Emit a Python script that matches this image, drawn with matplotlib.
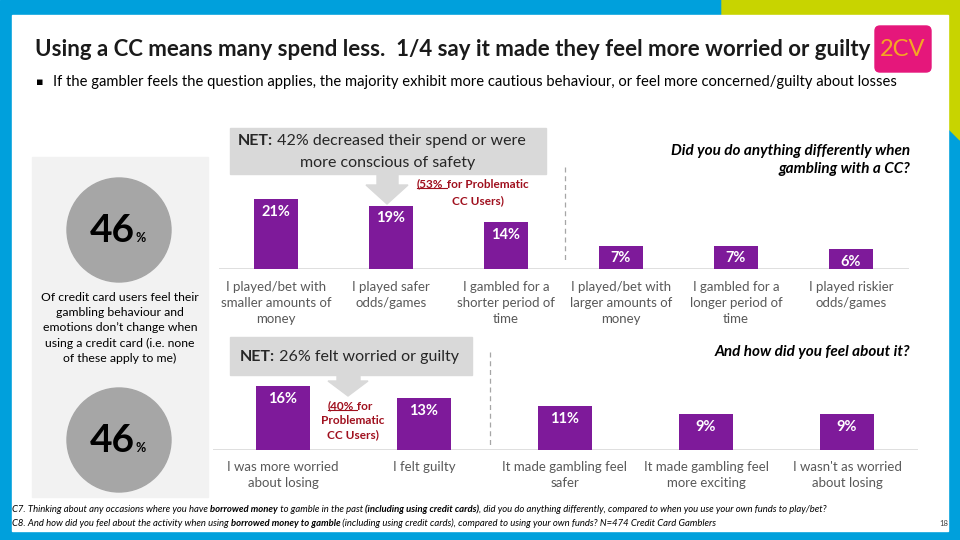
import matplotlib
matplotlib.use("Agg")
import matplotlib.pyplot as plt
from matplotlib.patches import Rectangle, Circle, Polygon, FancyBboxPatch

plt.rcParams['font.family'] = ['Lato', 'DejaVu Sans']

# data
do_labels = ["I played/bet with\nsmaller amounts of\nmoney", "I played safer\nodds/games",
             "I gambled for a\nshorter period of\ntime", "I played/bet with\nlarger amounts of\nmoney",
             "I gambled for a\nlonger period of\ntime", "I played riskier\nodds/games"]
do_values = [21, 19, 14, 7, 7, 6]
feel_labels = ["I was more worried\nabout losing", "I felt guilty", "It made gambling feel\nsafer",
               "It made gambling feel\nmore exciting", "I wasn't as worried\nabout losing"]
feel_values = [16, 13, 11, 9, 9]
no_change = [46, 46]
net_do = 42
net_feel = 26
prob_do = 53
prob_feel = 40

PURPLE = '#7E1A9A'
BLUE = '#00A0DC'
LIME = '#C8D400'
DARKRED = '#A0101E'
GREY_TXT = '#595959'
W, H = 960, 540

fig = plt.figure(figsize=(9.6, 5.4), dpi=100)
bg = fig.add_axes([0, 0, 1, 1])
bg.set_xlim(0, W)
bg.set_ylim(H, 0)
bg.axis('off')


def rich(ax, x, y, parts, **kw):
    # chain text pieces with different weights on one line
    t = ax.text(x, y, parts[0][0], fontweight=parts[0][1], **kw)
    first = t
    for s, w in parts[1:]:
        t = ax.annotate(s, xy=(1, 0), xycoords=t, va='bottom', ha='left', fontweight=w,
                        fontsize=kw.get('fontsize'), color=kw.get('color'),
                        fontstyle=kw.get('fontstyle', 'normal'))
    return first


# frame
bg.add_patch(Rectangle((0, 0), W, H, color=BLUE, zorder=0))
bg.add_patch(Polygon([(722, 0), (W, 0), (W, 140), (948, 128), (948, 15), (722, 15)], color=LIME, zorder=0))
bg.add_patch(Rectangle((12, 15), 936, 516, color='white', zorder=0))

# title & subtitle
bg.text(35, 50, "Using a CC means many spend less.  1/4 say it made they feel more worried or guilty",
        fontsize=16, fontweight='bold', va='center', ha='left', color='#1a1a1a')
bg.add_patch(FancyBboxPatch((877, 28), 52, 42, boxstyle='round,pad=2,rounding_size=5',
                            color='#E5177B', zorder=2))
bg.text(903, 50, "2CV", fontsize=17, color='#F5A623', ha='center', va='center', zorder=3)
bg.text(36, 82, "\u25aa", fontsize=8, va='center', color='black', family=['DejaVu Sans'])
bg.text(53, 82, "If the gambler feels the question applies, the majority exhibit more cautious behaviour, "
        "or feel more concerned/guilty about losses", fontsize=10.6, va='center', color='black')

# left panel
bg.add_patch(Rectangle((32, 157), 176, 340, color='#F2F2F2', zorder=1))
for cy, v in zip([230, 440], no_change):
    bg.add_patch(Circle((119, cy), 52, color='#A6A6A6', zorder=2))
    bg.text(135, cy + 12, str(v), fontsize=28, fontweight='bold', ha='right', va='baseline', zorder=3)
    bg.text(136, cy + 12, "%", fontsize=9, fontweight='bold', ha='left', va='baseline', zorder=3)
bg.text(120, 328, "Of credit card users feel their\ngambling behaviour and\nemotions don\u2019t change when\n"
        "using a credit card (i.e. none\nof these apply to me)", fontsize=8.8, ha='center', va='center',
        linespacing=1.45, color='black', zorder=3)

# NET boxes and arrows
bg.add_patch(Rectangle((230, 128), 316, 46, color='#D9D9D9', zorder=1))
bg.add_patch(Polygon([(377, 174), (398, 174), (398, 185), (408, 185), (387, 204), (366, 185), (377, 185)],
                     color='#D9D9D9', zorder=1))
rich(bg, 238, 141, [("NET:", 'bold'), (" %d%% decreased their spend or were" % net_do, 'normal')],
     fontsize=11.5, va='center', color='#262626')
bg.text(388, 163, "more conscious of safety", fontsize=11.5, ha='center', va='center', color='#262626')

bg.add_patch(Rectangle((230, 337), 242, 38, color='#D9D9D9', zorder=1))
bg.add_patch(Polygon([(337, 375), (360, 375), (360, 381), (368, 381), (348, 396), (328, 381), (337, 381)],
                     color='#D9D9D9', zorder=1))
rich(bg, 240, 357, [("NET:", 'bold'), (" %d%% felt worried or guilty" % net_feel, 'normal')],
     fontsize=11.5, va='center', color='#262626')

# problematic users notes
u1 = rich(bg, 417, 184, [("(%d%%" % prob_do, 'bold'), (" for Problematic", 'bold')],
          fontsize=8.5, va='center', color=DARKRED)
bg.text(478, 201, "CC Users)", fontsize=8.5, fontweight='bold', ha='center', va='center', color=DARKRED)
u2 = rich(bg, 328, 406, [("(%d%%" % prob_feel, 'bold'), (" for", 'bold')],
          fontsize=8.5, va='center', color=DARKRED)
bg.text(353, 415, "Problematic\nCC Users)", fontsize=8.5, fontweight='bold', ha='center', va='top',
        linespacing=1.4, color=DARKRED)

# questions
bg.text(910, 160, "Did you do anything differently when\ngambling with a CC?", fontsize=11, fontweight='bold',
        fontstyle='italic', ha='right', va='center', multialignment='right', linespacing=1.45)
bg.text(910, 352, "And how did you feel about it?", fontsize=11, fontweight='bold',
        fontstyle='italic', ha='right', va='center')

# dashed separators
bg.plot([565, 565], [167, 263], color='#A6A6A6', lw=0.9, ls=(0, (4, 3)))
bg.plot([490, 490], [352, 446], color='#A6A6A6', lw=0.9, ls=(0, (4, 3)))

# footer
rich(bg, 12, 510, [("C7. Thinking about any occasions where you have ", 'normal'), ("borrowed money", 'bold'),
                   (" to gamble in the past ", 'normal'), ("(including using credit cards)", 'bold'),
                   (", did you do anything differently, compared to when you use your own funds to play/bet?", 'normal')],
     fontsize=6.8, fontstyle='italic', va='center', color='black')
rich(bg, 12, 524, [("C8. And how did you feel about the activity when using ", 'normal'),
                   ("borrowed money to gamble", 'bold'),
                   (" (including using credit cards), compared to using your own funds? N=474 Credit Card Gamblers", 'normal')],
     fontsize=6.8, fontstyle='italic', va='center', color='black')
bg.text(944, 524, "18", fontsize=5.5, ha='center', va='center', color='#404040')


def px_axes(left, right, base, height):
    return fig.add_axes([left / W, (H - base) / H, (right - left) / W, height / H])


def bar_chart(ax, labels, values, ymax, pad):
    x = range(len(values))
    ax.bar(x, values, width=0.385, color=PURPLE, zorder=2)
    ax.set_xlim(-0.5, len(values) - 0.5)
    ax.set_ylim(0, ymax)
    ax.axhline(0, color='#D9D9D9', lw=1.2, zorder=1)
    for s in ax.spines.values():
        s.set_visible(False)
    ax.set_yticks([])
    ax.set_xticks(list(x), labels)
    ax.tick_params(axis='x', length=0, pad=pad, labelsize=9.5, labelcolor=GREY_TXT)
    for lab in ax.get_xticklabels():
        lab.set_linespacing(1.4)
    for i, v in enumerate(values):
        ax.annotate("%d%%" % v, xy=(i, v), xytext=(0, -4), textcoords='offset points',
                    ha='center', va='top', color='white', fontweight='bold', fontsize=10.5)
    ax.patch.set_alpha(0)


ax1 = px_axes(218.5, 908.5, 269, 100)
bar_chart(ax1, do_labels, do_values, 30, 8.5)
ax2 = px_axes(212.5, 917.5, 450, 80)
bar_chart(ax2, feel_labels, feel_values, 20, 8)

# underline the percentages in the notes
fig.canvas.draw()
r = fig.canvas.get_renderer()
inv = bg.transData.inverted()
for t in [u1, u2]:
    bb = t.get_window_extent(r)
    (x0, y0), (x1, y1) = inv.transform([(bb.x0, bb.y0), (bb.x1, bb.y1)])
    bg.plot([x0, x1 + 3], [y0 - 2, y0 - 2], color=DARKRED, lw=0.8)

fig.savefig("out.png", dpi=100)
